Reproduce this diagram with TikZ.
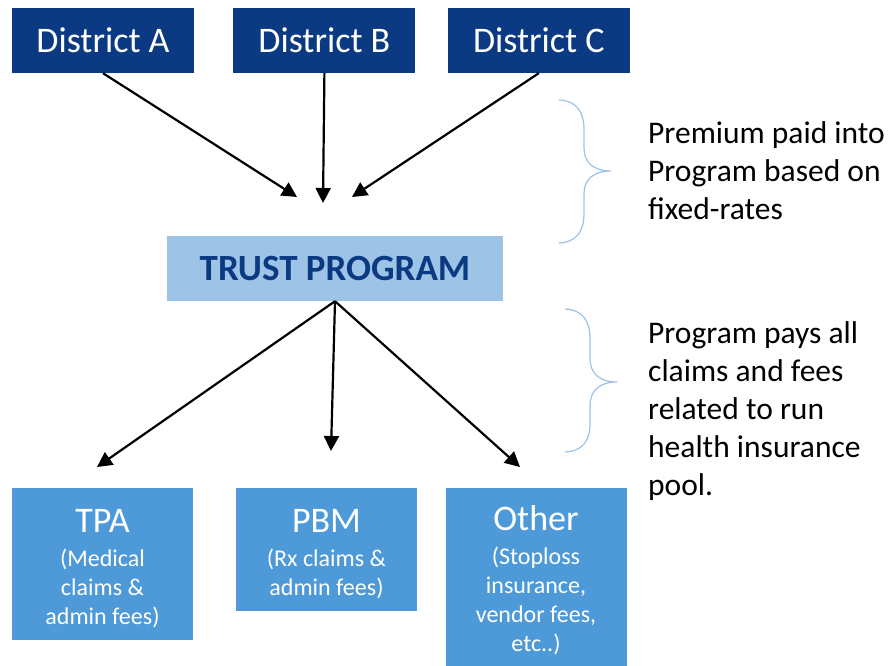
\documentclass[tikz,border=0pt]{standalone}
\usepackage{fontspec}
\setmainfont{Carlito}
\usetikzlibrary{positioning, arrows.meta}
\definecolor{navy}{HTML}{0B3A82}
\definecolor{paleblue}{HTML}{9DC3E6}
\definecolor{midblue}{HTML}{4E9AD9}
\definecolor{bracecol}{HTML}{9CC2E8}
\newcommand{\fsize}[2]{\fontsize{#1}{#2}\selectfont}

\begin{document}
\begin{tikzpicture}[
  x=1pt, y=-1pt,
  >={Triangle[length=15pt, width=15pt]},
  district/.style={fill=navy, text=white, minimum width=182pt,
                   minimum height=65pt, inner sep=0pt, font=\fsize{36}{40}},
  trust/.style={fill=paleblue, text=navy, minimum width=336pt,
                minimum height=65pt, inner sep=0pt, font=\fsize{37}{40}\bfseries},
  payee/.style={fill=midblue, text=white, minimum width=181pt, anchor=north,
                align=center, inner sep=0pt, font=\fsize{24}{29}},
  note/.style={anchor=north west, align=left, inner sep=0pt, font=\fsize{31.5}{38}},
  arr/.style={->, line width=2.2pt},
  brace/.style={draw=bracecol, line width=1.2pt}
]
\useasboundingbox (0,0) rectangle (894,666);

% districts paying in
\node[district] (dA) at (103,40.5) {District A};
\node[district, right=39pt of dA] (dB) {District B};
\node[district, right=32pt of dB] (dC) {District C};

\node[trust] (trust) at (335,268.5) {TRUST PROGRAM};

% where the money goes
\node[payee, minimum height=152pt] (tpa) at (102.5,488)
  {\rule{0pt}{31pt}{\fsize{36}{40}TPA}\\[5pt](Medical\\claims \&\\admin fees)};
\node[payee, minimum height=123pt] (pbm) at (326.5,488)
  {\rule{0pt}{31pt}{\fsize{36}{40}PBM}\\[5pt](Rx claims \&\\admin fees)};
\node[payee, minimum height=178pt] (other) at (536,488)
  {\rule{0pt}{31pt}{\fsize{36}{40}Other}\\[5pt](Stoploss\\insurance,\\vendor fees,\\etc..)};

\coordinate (hitA) at (297,197);
\coordinate (hitB) at (323,203);
\coordinate (hitC) at (352,197);
\coordinate (toTPA) at (97,467);
\coordinate (toPBM) at (331,451);
\coordinate (toOther) at (520,467);

\draw[arr] (dA.south) -- (hitA);
\draw[arr] (dB.south) -- (hitB);
\draw[arr] (dC.south) -- (hitC);
\draw[arr] (trust.south) -- (toTPA);
\draw[arr] (trust.south) -- (toPBM);
\draw[arr] (trust.south) -- (toOther);

% braces and notes on the right
\draw[brace] (559,100) .. controls (577,101) and (584,112) .. (584,130)
  -- (584,148) .. controls (584,163) and (594,171) .. (611,171)
  .. controls (594,171) and (584,179) .. (584,194)
  -- (584,213) .. controls (584,231) and (577,242) .. (559,243);
\node[note] (paidin) at (648,121) {Premium paid into\\Program based on\\fixed-rates};

\draw[brace] (565,309) .. controls (583,310) and (590,321) .. (590,339)
  -- (590,358) .. controls (590,374) and (600,382) .. (617,382)
  .. controls (600,382) and (590,390) .. (590,406)
  -- (590,423) .. controls (590,441) and (583,451) .. (565,452);
\node[note] (paysout) at (648,321) {Program pays all\\claims and fees\\related to run\\health insurance\\pool.};
\end{tikzpicture}
\end{document}
